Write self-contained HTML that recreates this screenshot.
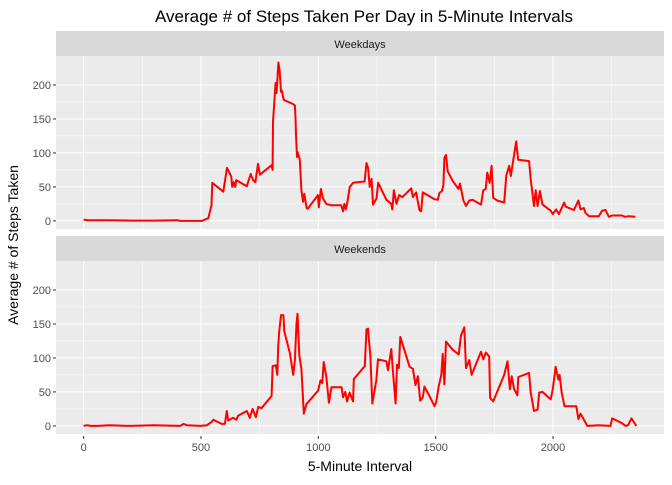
<!DOCTYPE html>
<html><head><meta charset="utf-8"><style>
body{margin:0;background:#fff;font-family:"Liberation Sans",Arial,sans-serif}
</style></head><body>
<svg id="chart" width="672" height="480" xmlns="http://www.w3.org/2000/svg">
<text x="364" y="22" text-anchor="middle" font-size="17" fill="#000">Average # of Steps Taken Per Day in 5-Minute Intervals</text>
<text x="18" y="245" text-anchor="middle" font-size="14" transform="rotate(-90 18 245)">Average # of Steps Taken</text>
<text x="360" y="471" text-anchor="middle" font-size="14">5-Minute Interval</text>
<g id="plots"></g>
</svg>
<script>
const yTicks=[0,50,100,150,200];
const xTicks=[0,500,1000,1500,2000];
const panelNames=["Weekdays","Weekends"];
const wdX=[0,20,100,200,300,400,412,504,531,545,548,595,611,629,633,640,646,650,695,712,722,732,743,751,801,805,807,815,818,822,830,835,841,844,853,892,900,903,905,909,912,921,928,935,940,950,955,998,1002,1011,1020,1034,1055,1098,1105,1111,1117,1123,1134,1148,1197,1205,1212,1219,1227,1233,1248,1255,1290,1311,1315,1322,1333,1344,1358,1396,1403,1417,1424,1431,1438,1445,1495,1509,1516,1527,1533,1537,1544,1551,1572,1597,1603,1610,1618,1629,1643,1657,1693,1703,1713,1720,1730,1738,1745,1762,1792,1801,1813,1820,1830,1843,1851,1898,1905,1919,1926,1934,1944,1955,1990,1999,2013,2025,2047,2053,2089,2108,2117,2131,2138,2153,2195,2209,2223,2238,2252,2294,2306,2322,2351];
const wdY=[2,1,1,0.5,0.5,1,0,0,4,23,56,43,78,65,50,57,50,60,51,69,60,57,84,68,82,75,146,188,203,188,233,222,190,192,178,172,170,148,126,94,101,90,45,28,40,19,18,38,20,47,33,25,23,23,14,25,17,26,50,56,58,85,78,50,62,24,33,56,31,25,17,45,25,38,35,48,35,42,28,16,14,42,32,31,41,44,53,93,97,73,59,47,55,44,30,22,30,31,24,45,47,71,56,81,34,30,27,67,81,66,88,117,90,88,61,22,45,22,44,24,15,10,17,10,27,21,16,30,17,19,12,7,7,15,16,6,8,8,6,7,6];
const weX=[0,15,30,60,110,200,300,412,426,440,497,525,546,553,588,602,610,616,637,651,658,695,708,720,734,744,758,801,805,819,825,829,833,841,851,855,879,893,900,907,911,919,928,938,949,999,1009,1017,1023,1034,1045,1056,1099,1105,1115,1122,1133,1148,1151,1198,1205,1212,1216,1222,1230,1247,1254,1290,1297,1311,1318,1329,1335,1343,1349,1389,1403,1414,1424,1434,1445,1452,1473,1495,1502,1513,1524,1530,1537,1544,1573,1598,1608,1622,1629,1643,1653,1693,1703,1714,1728,1732,1745,1792,1806,1816,1824,1834,1848,1852,1898,1905,1919,1934,1941,1955,1990,2000,2011,2023,2028,2037,2049,2099,2108,2117,2124,2146,2195,2245,2252,2294,2309,2320,2334,2355];
const weY=[0,1,0,0,1,0,1,0,3,1,0,1,6,9,3,3,22,8,12,9,15,22,12,25,13,28,26,44,88,89,75,117,137,163,163,139,107,75,97,150,165,104,84,18,32,52,67,63,94,73,34,57,57,42,50,36,49,36,69,88,142,143,125,103,33,67,98,95,82,113,79,33,90,85,131,87,84,60,73,37,42,58,44,29,35,58,75,106,61,124,112,105,133,145,85,97,75,109,98,108,102,41,36,75,95,54,73,54,45,72,78,49,22,24,49,50,39,56,87,68,75,49,29,29,10,18,14,0,1,0,11,4,0,1,11,0];
const series=[[wdX,wdY],[weX,weY]];
const NS="http://www.w3.org/2000/svg";
const g=document.getElementById("plots");
const PL=56,PR=664,PH=173;
const tops=[56,261];
const xs=v=>PL+(v+117.75)*(PR-PL)/2590.5;
function mk(t,a,p){const e=document.createElementNS(NS,t);for(const k in a)e.setAttribute(k,a[k]);(p||g).appendChild(e);return e;}
tops.forEach((top,i)=>{
  const ys=v=>top+PH-(v+11.9)*PH/254.5;
  const strip=mk("rect",{x:PL,y:top-25,width:PR-PL,height:25,fill:"#d9d9d9"});
  
  
  const st=mk("text",{x:(PL+PR)/2,y:top-8,"text-anchor":"middle","font-size":"11",fill:"#1a1a1a"});
  st.textContent=panelNames[i];
  
  
  const bg=mk("rect",{x:PL,y:top,width:PR-PL,height:PH,fill:"#ebebeb"});
  
  
  for(let k=0;k<yTicks.length-1;k++){const m=(yTicks[k]+yTicks[k+1])/2;mk("line",{x1:PL,x2:PR,y1:ys(m),y2:ys(m),stroke:"#fff","stroke-width":0.5});}
  for(let k=0;k<xTicks.length;k++){const m=xTicks[k]+250;if(xs(m)<PR)mk("line",{x1:xs(m),x2:xs(m),y1:top,y2:top+PH,stroke:"#fff","stroke-width":0.5});}
  yTicks.forEach(t=>{
    const l=mk("line",{x1:PL,x2:PR,y1:ys(t),y2:ys(t),stroke:"#fff","stroke-width":1});
    
    
    mk("line",{x1:PL-3,x2:PL,y1:ys(t),y2:ys(t),stroke:"#333"});
    const tx=mk("text",{x:PL-5,y:ys(t)+4,"text-anchor":"end","font-size":"11",fill:"#4d4d4d"});
    tx.textContent=t;
    
    
  });
  xTicks.forEach(t=>{
    const l=mk("line",{x1:xs(t),x2:xs(t),y1:top,y2:top+PH,stroke:"#fff","stroke-width":1});
    
    
  });
  const [X,Y]=series[i];
  const d=X.map((x,j)=>(j?"L":"M")+xs(x).toFixed(1)+","+ys(Y[j]).toFixed(1)).join("");
  const p=mk("path",{d:d,fill:"none",stroke:"#ff0000","stroke-width":2,"stroke-linejoin":"round"});
  
  
});
xTicks.forEach(t=>{
  mk("line",{x1:xs(t),x2:xs(t),y1:436,y2:439,stroke:"#333"});
  const tx=mk("text",{x:xs(t),y:451,"text-anchor":"middle","font-size":"11",fill:"#4d4d4d"});
  tx.textContent=t;
  
  
});
</script>
</body></html>
